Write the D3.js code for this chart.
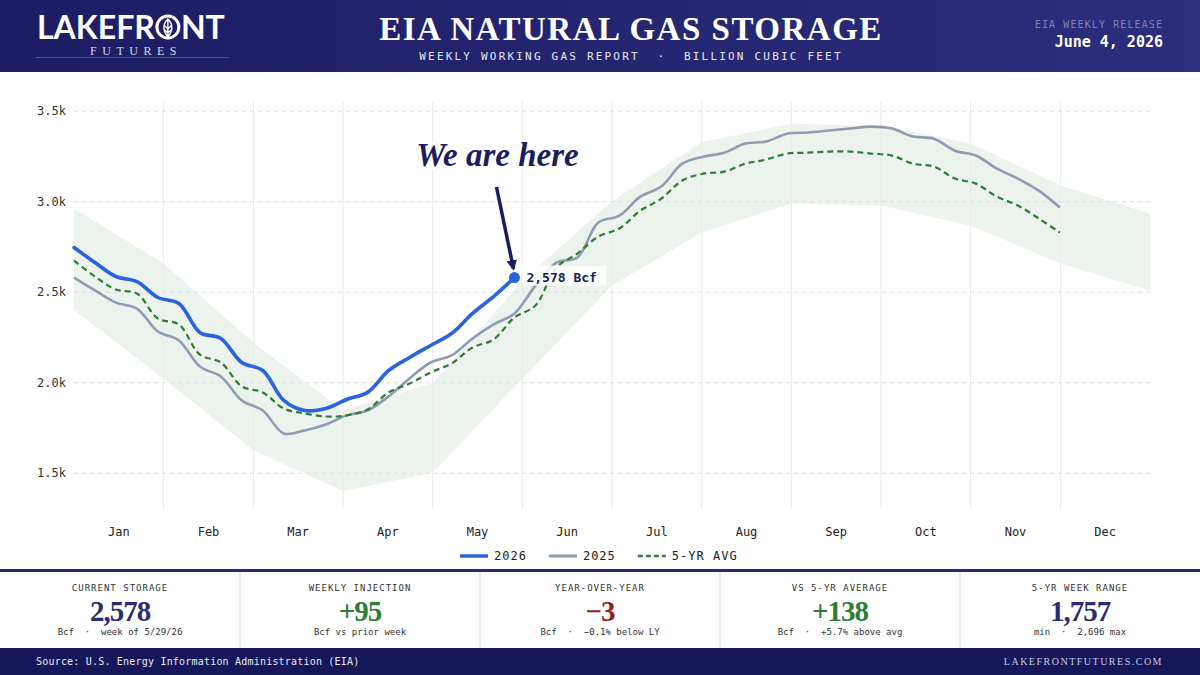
<!DOCTYPE html>
<html>
<head>
<meta charset="utf-8">
<script src="https://cdn.jsdelivr.net/npm/d3@7"></script>
<style>
html, body { margin: 0; padding: 0; background: #fff; }
svg { display: block; }
</style>
</head>
<body>
<script>
// EIA weekly storage chart, Bcf. Weekly series.

var months = ['Jan', 'Feb', 'Mar', 'Apr', 'May', 'Jun', 'Jul', 'Aug', 'Sep', 'Oct', 'Nov', 'Dec'];
var yTicks = [1500, 2000, 2500, 3000, 3500];

var storage2026 = [2744, 2661, 2584, 2556, 2468, 2435, 2275, 2242, 2109, 2065, 1900,
    1844, 1855, 1905, 1944, 2065, 2137, 2203, 2269, 2380, 2473, 2578];

var storage2025 = [2578, 2507, 2440, 2407, 2280, 2231, 2087, 2032, 1900, 1844, 1717,
    1734, 1767, 1817, 1844, 1922, 2021, 2109, 2148, 2242, 2319, 2380, 2534, 2661,
    2689, 2882, 2920, 3025, 3081, 3207, 3246, 3268, 3318, 3329, 3373, 3379, 3390,
    3401, 3412, 3401, 3357, 3345, 3279, 3252, 3180, 3125, 3058, 2965];

var fiveYrAvg = [2672, 2584, 2512, 2490, 2352, 2319, 2153, 2109, 1977, 1944, 1855,
    1828, 1811, 1817, 1850, 1944, 1993, 2054, 2104, 2192, 2236, 2358, 2424, 2634,
    2711, 2805, 2849, 2948, 3014, 3114, 3152, 3163, 3207, 3230, 3263, 3268, 3274,
    3274, 3263, 3252, 3207, 3191, 3125, 3097, 3025, 2976, 2904, 2827];

// 5-yr range, one point per month boundary (Jan 1 .. Dec 31)
var rangeMax = [2960, 2655, 2220, 1844, 1995, 2560, 3000, 3325, 3428, 3417, 3318, 3086, 2932];
var rangeMin = [2400, 2020, 1625, 1400, 1500, 2020, 2535, 2827, 2987, 2976, 2865, 2656, 2507];

var statLabels = ['CURRENT STORAGE', 'WEEKLY INJECTION', 'YEAR-OVER-YEAR', 'VS 5-YR AVERAGE', '5-YR WEEK RANGE'];
var statValues = ['2,578', '+95', '\u22123', '+138', '1,757'];
var statNotes = ['Bcf  \u00b7  week of 5/29/26', 'Bcf vs prior week', 'Bcf  \u00b7  \u22120.1% below LY',
    'Bcf  \u00b7  +5.7% above avg', 'min  \u00b7  2,696 max'];

var W = 1200, H = 675,
    LEFT = 74, RIGHT = 1150,
    MONO = '"DejaVu Sans Mono", monospace',
    SERIF = '"Liberation Serif", serif',
    SANS = 'Lato, sans-serif',
    NAVY = '#1b1d5e',
    BLUE = '#2a63e0',
    GREY = '#8f9bb1',
    GREEN = '#2e7d32',
    RED = '#9b1c1c';

var svg = d3.select('body').append('svg')
    .attr('width', W)
    .attr('height', H);

var defs = svg.append('defs');
var grad = defs.append('linearGradient').attr('id', 'hdr').attr('x1', 0).attr('x2', 1);
grad.append('stop').attr('offset', 0).attr('stop-color', '#1c1d62');
grad.append('stop').attr('offset', 1).attr('stop-color', '#2b2e7d');

defs.append('marker')
    .attr('id', 'arrow')
    .attr('viewBox', '0 0 10 10')
    .attr('refX', 8).attr('refY', 5)
    .attr('markerWidth', 3).attr('markerHeight', 3)
    .attr('orient', 'auto')
    .append('path')
    .attr('d', 'M0,0 L10,5 L0,10 Z')
    .attr('fill', NAVY);

// ---- header ----
svg.append('rect').attr('width', W).attr('height', 72).attr('fill', 'url(#hdr)');

var logo = svg.append('g');
var lk = logo.append('text')
    .attr('x', 37).attr('y', 39)
    .attr('font-family', SANS).attr('font-weight', 700).attr('font-size', 32)
    .attr('fill', '#fff')
    .text('LAKEFR');
var ocx = 37 + lk.node().getComputedTextLength() + 13,
    ocy = 27;
logo.append('circle')
    .attr('cx', ocx).attr('cy', ocy).attr('r', 11)
    .attr('fill', 'none').attr('stroke', '#fff').attr('stroke-width', 3);
logo.append('path')
    .attr('d', 'M' + ocx + ',' + (ocy - 8) + ' Q' + (ocx + 8) + ',' + ocy + ' ' + ocx + ',' + (ocy + 10) +
        ' Q' + (ocx - 8) + ',' + ocy + ' ' + ocx + ',' + (ocy - 8) + ' Z' +
        ' M' + ocx + ',' + (ocy - 6) + ' L' + ocx + ',' + (ocy + 10) +
        ' M' + ocx + ',' + (ocy + 2) + ' L' + (ocx - 4) + ',' + (ocy - 2) +
        ' M' + ocx + ',' + (ocy + 2) + ' L' + (ocx + 4) + ',' + (ocy - 2) +
        ' M' + ocx + ',' + (ocy + 6) + ' L' + (ocx - 4) + ',' + (ocy + 2) +
        ' M' + ocx + ',' + (ocy + 6) + ' L' + (ocx + 4) + ',' + (ocy + 2))
    .attr('fill', 'none').attr('stroke', '#fff').attr('stroke-width', 1.4);
logo.append('text')
    .attr('x', ocx + 13).attr('y', 39)
    .attr('font-family', SANS).attr('font-weight', 700).attr('font-size', 32)
    .attr('fill', '#fff')
    .text('NT');
logo.append('text')
    .attr('x', 136).attr('y', 55)
    .attr('text-anchor', 'middle')
    .attr('font-family', SERIF).attr('font-size', 12).attr('letter-spacing', 5.5)
    .attr('fill', '#d8d9ec')
    .text('FUTURES');
logo.append('line')
    .attr('x1', 36).attr('x2', 229).attr('y1', 57.5).attr('y2', 57.5)
    .attr('stroke', '#5a5da0').attr('stroke-width', 0.8);

svg.append('text')
    .attr('x', 631).attr('y', 40)
    .attr('text-anchor', 'middle')
    .attr('font-family', SERIF).attr('font-weight', 700).attr('font-size', 33)
    .attr('letter-spacing', 1.5)
    .attr('fill', '#fff')
    .text('EIA NATURAL GAS STORAGE');
svg.append('text')
    .attr('x', 631).attr('y', 60)
    .attr('text-anchor', 'middle')
    .attr('font-family', MONO).attr('font-size', 11).attr('letter-spacing', 2.2)
    .attr('fill', '#e6e7f4')
    .text('WEEKLY WORKING GAS REPORT\u00a0\u00a0\u00b7\u00a0\u00a0BILLION CUBIC FEET');

svg.append('text')
    .attr('x', 1163).attr('y', 28)
    .attr('text-anchor', 'end')
    .attr('font-family', MONO).attr('font-size', 10).attr('letter-spacing', 1.1)
    .attr('fill', '#7f82b8')
    .text('EIA WEEKLY RELEASE');
svg.append('text')
    .attr('x', 1163).attr('y', 47)
    .attr('text-anchor', 'end')
    .attr('font-family', MONO).attr('font-weight', 700).attr('font-size', 15)
    .attr('fill', '#fff')
    .text('June 4, 2026');

// ---- scales ----
var x = d3.scaleLinear().domain([0, 51.3]).range([LEFT, RIGHT]);      // week index
var xm = d3.scaleLinear().domain([0, 12]).range([LEFT, RIGHT]);       // month boundaries
var xb = d3.scaleBand().domain(months).range([LEFT, RIGHT]);          // month labels
var y = d3.scaleLinear().domain([1300, 3550]).range([509, 101.6]);

var chart = svg.append('g');

// 5-yr range band
var band = d3.area()
    .x(function(d, i) { return xm(i); })
    .y0(function(d, i) { return y(rangeMin[i]); })
    .y1(function(d) { return y(d); });
chart.append('path')
    .datum(rangeMax)
    .attr('d', band)
    .attr('fill', GREEN)
    .attr('fill-opacity', 0.09);

// grid
chart.append('g')
    .attr('transform', 'translate(' + LEFT + ',0)')
    .call(d3.axisLeft(y).tickValues(yTicks).tickSize(-(RIGHT - LEFT)).tickFormat(''))
    .call(function(g) {
        g.select('.domain').remove();
        g.selectAll('line')
            .attr('stroke', '#dcdde6')
            .attr('stroke-dasharray', '4,4');
    });
chart.append('g')
    .selectAll('line')
    .data(d3.range(1, 12))
    .join('line')
    .attr('x1', function(d) { return xm(d); })
    .attr('x2', function(d) { return xm(d); })
    .attr('y1', y.range()[1])
    .attr('y2', y.range()[0])
    .attr('stroke', '#e9eaef')
    .attr('stroke-width', 1);

// axes
chart.append('g')
    .attr('transform', 'translate(70,0)')
    .call(d3.axisLeft(y).tickValues(yTicks).tickSize(0).tickPadding(4)
        .tickFormat(function(d) { return (d / 1000).toFixed(1) + 'k'; }))
    .call(function(g) {
        g.select('.domain').remove();
        g.selectAll('text')
            .attr('font-family', MONO).attr('font-size', 12)
            .attr('fill', '#333');
    });
chart.append('g')
    .attr('transform', 'translate(0,523)')
    .call(d3.axisBottom(xb).tickSize(0).tickPadding(4))
    .call(function(g) {
        g.select('.domain').remove();
        g.selectAll('text')
            .attr('font-family', MONO).attr('font-size', 12)
            .attr('fill', '#222');
    });

// series
var line = d3.line()
    .x(function(d, i) { return x(i); })
    .y(function(d) { return y(d); })
    .curve(d3.curveCatmullRom.alpha(0.5));

chart.append('path')
    .datum(storage2025)
    .attr('d', line)
    .attr('fill', 'none')
    .attr('stroke', GREY)
    .attr('stroke-width', 2.6);
chart.append('path')
    .datum(fiveYrAvg)
    .attr('d', line)
    .attr('fill', 'none')
    .attr('stroke', GREEN)
    .attr('stroke-width', 2.2)
    .attr('stroke-dasharray', '6,4');
chart.append('path')
    .datum(storage2026)
    .attr('d', line)
    .attr('fill', 'none')
    .attr('stroke', BLUE)
    .attr('stroke-width', 3.6)
    .attr('stroke-linecap', 'round');

// annotation
var last = storage2026.length - 1,
    px = x(last),
    py = y(storage2026[last]);

chart.append('rect')
    .attr('x', px + 8).attr('y', py - 12)
    .attr('width', 84).attr('height', 20)
    .attr('fill', '#fff').attr('fill-opacity', 0.85);
chart.append('text')
    .attr('x', px + 12).attr('y', py + 4)
    .attr('font-family', MONO).attr('font-weight', 700).attr('font-size', 13)
    .attr('fill', NAVY)
    .text(d3.format(',')(storage2026[last]) + ' Bcf');
chart.append('circle')
    .attr('cx', px).attr('cy', py).attr('r', 5.5)
    .attr('fill', BLUE);

chart.append('text')
    .attr('x', px - 17).attr('y', 166)
    .attr('text-anchor', 'middle')
    .attr('font-family', SERIF).attr('font-weight', 700).attr('font-style', 'italic')
    .attr('font-size', 33)
    .attr('fill', NAVY)
    .attr('stroke', '#fff').attr('stroke-width', 6).attr('paint-order', 'stroke')
    .text('We are here');
chart.append('line')
    .attr('x1', px - 18).attr('y1', 187)
    .attr('x2', px - 1).attr('y2', py - 9)
    .attr('stroke', NAVY).attr('stroke-width', 3.5)
    .attr('marker-end', 'url(#arrow)');

// legend
var legendItems = [
    { label: '2026', color: BLUE, width: 3.5, dash: null },
    { label: '2025', color: GREY, width: 3, dash: null },
    { label: '5-YR AVG', color: GREEN, width: 2.5, dash: '5,3' }
];
var legend = svg.append('g').attr('transform', 'translate(460,556)');
var lx = 0;
legendItems.forEach(function(d) {
    legend.append('line')
        .attr('x1', lx).attr('x2', lx + 28)
        .attr('stroke', d.color).attr('stroke-width', d.width)
        .attr('stroke-dasharray', d.dash);
    var t = legend.append('text')
        .attr('x', lx + 34).attr('y', 4)
        .attr('font-family', MONO).attr('font-size', 12).attr('letter-spacing', 1)
        .attr('fill', '#222')
        .text(d.label);
    lx += 34 + t.node().getComputedTextLength() + 22;
});

// ---- stats strip ----
svg.append('rect').attr('y', 569).attr('width', W).attr('height', 3).attr('fill', '#262a72');
var colW = W / statLabels.length;
svg.append('g')
    .selectAll('line')
    .data(d3.range(1, statLabels.length))
    .join('line')
    .attr('x1', function(d) { return d * colW; })
    .attr('x2', function(d) { return d * colW; })
    .attr('y1', 572).attr('y2', 648)
    .attr('stroke', '#d9dbe8');

function tone(v) {
    if (v.charAt(0) === '+') return GREEN;
    if (v.charAt(0) === '\u2212') return RED;
    return '#2a2d72';
}

var stat = svg.append('g')
    .selectAll('g')
    .data(statLabels)
    .join('g')
    .attr('transform', function(d, i) { return 'translate(' + (colW * i + colW / 2) + ',0)'; });
stat.append('text')
    .attr('y', 591)
    .attr('text-anchor', 'middle')
    .attr('font-family', MONO).attr('font-size', 9).attr('letter-spacing', 1)
    .attr('fill', '#333')
    .text(function(d) { return d; });
stat.append('text')
    .attr('y', 621)
    .attr('text-anchor', 'middle')
    .attr('font-family', SERIF).attr('font-weight', 700).attr('font-size', 29)
    .attr('letter-spacing', -1)
    .attr('fill', function(d, i) { return tone(statValues[i]); })
    .text(function(d, i) { return statValues[i]; });
stat.append('text')
    .attr('y', 635)
    .attr('text-anchor', 'middle')
    .attr('font-family', MONO).attr('font-size', 9)
    .attr('fill', '#333')
    .style('white-space', 'pre')
    .text(function(d, i) { return statNotes[i]; });

// ---- footer ----
svg.append('rect').attr('y', 648).attr('width', W).attr('height', 27).attr('fill', '#15175a');
svg.append('text')
    .attr('x', 36).attr('y', 665)
    .attr('font-family', MONO).attr('font-size', 10).attr('letter-spacing', 0.2)
    .attr('fill', '#e8e9f5')
    .text('Source: U.S. Energy Information Administration (EIA)');
svg.append('text')
    .attr('x', 1163).attr('y', 665)
    .attr('text-anchor', 'end')
    .attr('font-family', SERIF).attr('font-size', 10).attr('letter-spacing', 1.5)
    .attr('fill', '#c8cae0')
    .text('LAKEFRONTFUTURES.COM');
</script>
</body>
</html>
